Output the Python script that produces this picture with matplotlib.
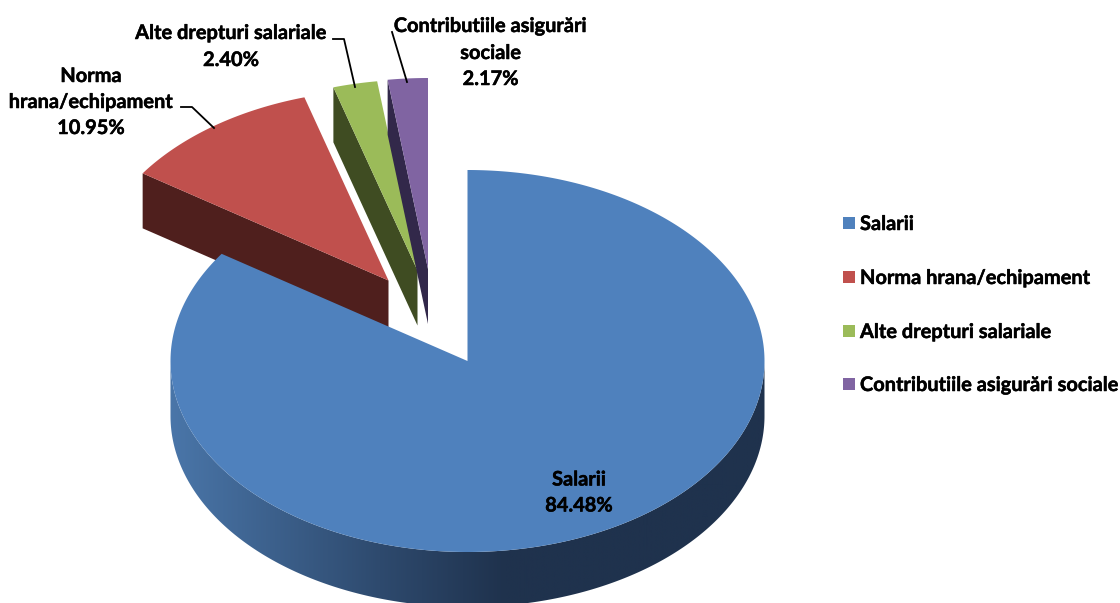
import numpy as np
import matplotlib
matplotlib.use('Agg')
import matplotlib.pyplot as plt
import matplotlib.patheffects as pe
from matplotlib.colors import to_rgb
from matplotlib.patches import Polygon, Rectangle

# Data
categories = ['Salarii', 'Norma hrana/echipament', 'Alte drepturi salariale', 'Contributiile asigurări sociale']
shares = [84.48, 10.95, 2.40, 2.17]
pct_labels = ['84.48%', '10.95%', '2.40%', '2.17%']
top_colors = ['#4F81BD', '#C0504D', '#9BBB59', '#8064A2']
side_colors = ['#1F324D', '#4F1F1D', '#3F4C22', '#32284A']

# pie geometry in pixels
cx, cy = 467.5, 361
rx, ry = 297, 191
depth = 55
apex = [(cx, cy), (388.5, 280.5), (417.5, 270.5), (428, 269)]

plt.rcParams['font.family'] = ['Lato', 'DejaVu Sans']
fig = plt.figure(figsize=(11.2, 6.03), dpi=100)
ax = fig.add_axes([0, 0, 1, 1])
ax.axis('off')

# slice angles, clockwise from the top
edges = np.cumsum([0] + shares) / sum(shares) * 2 * np.pi


def rim(a, b, ox, oy, n=200):
    t = np.linspace(a, b, n)
    return np.column_stack([ox + rx * np.sin(t), oy - ry * np.cos(t)])


# exploded slices, back to front
for i in [3, 2, 1]:
    ox, oy = apex[i]
    a, b = edges[i], edges[i + 1]
    p = rim(a, a, ox, oy, 1)[0]
    ax.add_patch(Polygon([p, (ox, oy), (ox, oy + depth), (p[0], p[1] + depth)],
                         closed=True, fc=side_colors[i], ec='none', zorder=i))
    ax.add_patch(Polygon(np.vstack([[(ox, oy)], rim(a, b, ox, oy)]), closed=True,
                         fc=top_colors[i], ec='none', zorder=i + 0.5))

# blue side wall with the shading going dark to the right
xs = np.linspace(170, 765, 600)
stops = [170, 380, 505, 765]
stop_cols = np.array([to_rgb('#4A76A9'), to_rgb('#2E4A6E'), to_rgb(side_colors[0]), to_rgb(side_colors[0])])
grad = np.column_stack([np.interp(xs, stops, stop_cols[:, k]) for k in range(3)])[np.newaxis, :, :]
im = ax.imshow(grad, extent=(170, 765, cy + ry + depth, cy), aspect='auto', zorder=5)
front = rim(np.pi / 2, 3 * np.pi / 2, cx, cy, 400)
wall = Polygon(np.vstack([front, front[::-1] + [0, depth]]), closed=True,
               transform=ax.transData, fc='none', ec='none')
ax.add_patch(wall)
im.set_clip_path(wall)

# blue top
ax.add_patch(Polygon(np.vstack([[(cx, cy)], rim(edges[0], edges[1], cx, cy, 400)]),
                     closed=True, fc=top_colors[0], ec='none', zorder=6))

# leader lines
ax.plot([181, 192, 214], [107, 107, 128], color='black', lw=1.3, zorder=7)
ax.plot([333, 344, 355], [39, 39, 87], color='black', lw=1.3, zorder=7)
ax.plot([392, 407], [32, 82], color='black', lw=1.3, zorder=7)

# data labels
fs = 14.4
bold = [pe.withStroke(linewidth=0.35, foreground='black')]
lab = dict(ha='center', va='center', fontsize=fs, fontweight='bold', color='black', zorder=8, path_effects=bold)
ax.text(579, 479.5, categories[0], **lab)
ax.text(579, 505.5, pct_labels[0], **lab)
ax.text(91, 76, 'Norma', **lab)
ax.text(91, 102, 'hrana/echipament', **lab)
ax.text(91, 128, pct_labels[1], **lab)
ax.text(231, 33, categories[2], **lab)
ax.text(231, 60, pct_labels[2], **lab)
ax.text(490.5, 26, 'Contributiile asigurări', **lab)
ax.text(490.5, 53, 'sociale', **lab)
ax.text(490.5, 79, pct_labels[3], **lab)

# legend
for name, col, y in zip(categories, top_colors, [223, 277, 331, 384]):
    ax.add_patch(Rectangle((843, y - 6), 12, 12, fc=col, ec='none'))
    ax.text(860, y + 1, name, ha='left', va='center', fontsize=fs, fontweight='bold', color='black', path_effects=bold)

ax.set_xlim(0, 1120)
ax.set_ylim(603, 0)
fig.savefig('out.png', dpi=100)
